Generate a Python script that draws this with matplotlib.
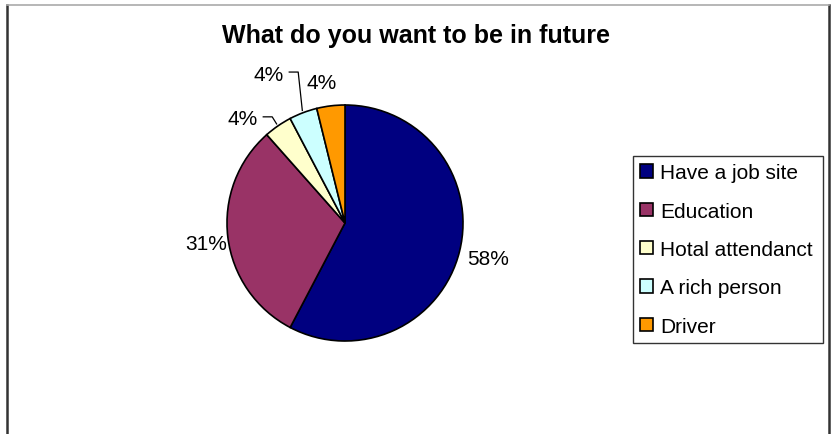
import matplotlib
matplotlib.use('Agg')
import matplotlib.pyplot as plt
import numpy as np
from matplotlib.lines import Line2D

categories = ["Have a job site", "Education", "Hotal attendanct", "A rich person", "Driver"]
counts = [15, 8, 1, 1, 1]
colors = ['#000080', '#993366', '#FFFFCC', '#CCFFFF', '#FF9900']
pct_labels = ["58%", "31%", "4%", "4%", "4%"]

# label placement per slice: radius, angle shift (deg), leader line?
lab_r = [1.25, 1.19, 1.24, 1.42, 1.21]
lab_shift = [0, 1.5, 10, 6.5, 2.4]
leader = [False, False, True, True, False]

plt.rcParams['font.family'] = ['Liberation Sans', 'DejaVu Sans']

fig = plt.figure(figsize=(8.32, 4.35), dpi=100)
fig.patch.set_facecolor('white')

# chart frame
W, H = 832, 435
fig.add_artist(Line2D([6.5 / W, 6.5 / W], [0, 1 - 6 / H], transform=fig.transFigure, color='#333333', lw=1.8))
fig.add_artist(Line2D([829 / W, 829 / W], [0, 1 - 6 / H], transform=fig.transFigure, color='#333333', lw=1.8))
fig.add_artist(Line2D([6.5 / W, 829 / W], [1 - 5.5 / H, 1 - 5.5 / H], transform=fig.transFigure, color='#aaaaaa', lw=1.2))

cx, cy, R = 345, 224, 118
ax = fig.add_axes([(cx - R) / W, 1 - (cy + R) / H, 2 * R / W, 2 * R / H])

wedges, _ = ax.pie(counts, colors=colors, startangle=90, counterclock=False,
                   radius=1.0, wedgeprops=dict(edgecolor='black', linewidth=1.2))
ax.set_xlim(-1, 1)
ax.set_ylim(-1, 1)
ax.axis('off')

for w, lab, r, sh, ld in zip(wedges, pct_labels, lab_r, lab_shift, leader):
    mid = np.deg2rad((w.theta1 + w.theta2) / 2)
    ang = mid + np.deg2rad(sh)
    tx, ty = r * np.cos(ang), r * np.sin(ang)
    ax.text(tx, ty, lab, ha='center', va='center', fontsize=15, clip_on=False)
    if ld:
        ex, ey = 1.02 * np.cos(mid), 1.02 * np.sin(mid)
        ax.plot([tx + 0.178, tx + 0.254, ex], [ty + 0.017, ty + 0.017, ey],
                color='black', lw=0.9, clip_on=False)

fig.text(416 / W, 1 - 36 / H, "What do you want to be in future", ha='center', va='center',
         fontsize=18, fontweight='bold')

leg = fig.legend(wedges, categories, loc='center', mode='expand',
                 bbox_to_anchor=(633 / W, 1 - 345 / H, 190 / W, 189 / H),
                 fontsize=15, frameon=True, fancybox=False, shadow=False,
                 handlelength=0.6, handleheight=0.6, handletextpad=0.35,
                 labelspacing=0.93, borderpad=0.35, borderaxespad=0)
leg.get_frame().set_edgecolor('black')
leg.get_frame().set_linewidth(1.0)

fig.savefig('out.png', dpi=100, facecolor='white')
